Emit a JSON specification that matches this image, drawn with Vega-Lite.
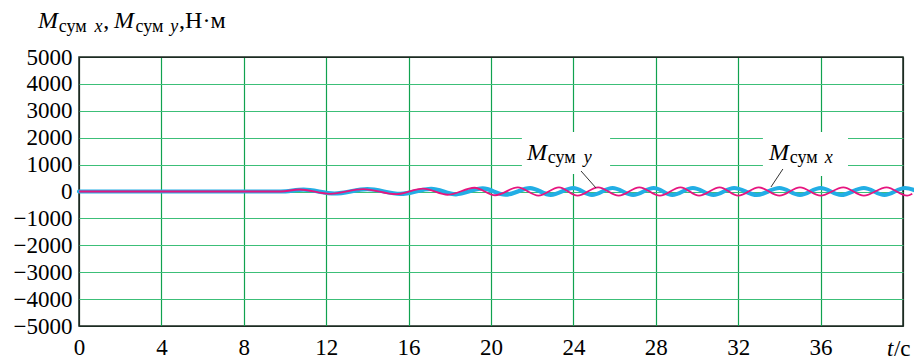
{
  "$schema": "https://vega.github.io/schema/vega-lite/v6.json",
  "width": 824,
  "height": 269,
  "autosize": "none",
  "padding": {"left": 79, "top": 57, "right": 11, "bottom": 34},
  "background": "white",
  "config": {
    "view": {"stroke": "#1c2b22", "strokeWidth": 1.5},
    "font": "Liberation Serif"
  },
  "datasets": {
    "one": [{}],
    "curves": [
      {"s": "Mx", "t": 0, "v": 0}, {"s": "Mx", "t": 9.8, "v": 0}, {"s": "Mx", "t": 10.9, "v": 70}, {"s": "Mx", "t": 12.4, "v": -75},
      {"s": "Mx", "t": 14.0, "v": 85}, {"s": "Mx", "t": 15.6, "v": -90}, {"s": "Mx", "t": 17.1, "v": 100}, {"s": "Mx", "t": 18.3, "v": -105},
      {"s": "Mx", "t": 19.6, "v": 115}, {"s": "Mx", "t": 20.7, "v": -120}, {"s": "Mx", "t": 21.9, "v": 125}, {"s": "Mx", "t": 22.9, "v": -125},
      {"s": "Mx", "t": 24.0, "v": 130}, {"s": "Mx", "t": 24.9, "v": -130}, {"s": "Mx", "t": 25.9, "v": 130}, {"s": "Mx", "t": 26.9, "v": -130},
      {"s": "Mx", "t": 27.9, "v": 130}, {"s": "Mx", "t": 28.8, "v": -130}, {"s": "Mx", "t": 29.8, "v": 130}, {"s": "Mx", "t": 30.8, "v": -130},
      {"s": "Mx", "t": 31.8, "v": 130}, {"s": "Mx", "t": 32.9, "v": -130}, {"s": "Mx", "t": 34.0, "v": 130}, {"s": "Mx", "t": 35.0, "v": -130},
      {"s": "Mx", "t": 36.0, "v": 130}, {"s": "Mx", "t": 37.0, "v": -130}, {"s": "Mx", "t": 38.1, "v": 130}, {"s": "Mx", "t": 39.1, "v": -130},
      {"s": "Mx", "t": 40.1, "v": 130}, {"s": "Mx", "t": 40.6, "v": 40},
      {"s": "My", "t": 0, "v": 0}, {"s": "My", "t": 9.8, "v": 0}, {"s": "My", "t": 10.7, "v": 75}, {"s": "My", "t": 12.2, "v": -85},
      {"s": "My", "t": 13.8, "v": 90}, {"s": "My", "t": 15.4, "v": -100}, {"s": "My", "t": 16.7, "v": 110}, {"s": "My", "t": 17.9, "v": -120},
      {"s": "My", "t": 19.2, "v": 140}, {"s": "My", "t": 20.2, "v": -140}, {"s": "My", "t": 21.3, "v": 150}, {"s": "My", "t": 22.3, "v": -150},
      {"s": "My", "t": 23.3, "v": 155}, {"s": "My", "t": 24.2, "v": -155}, {"s": "My", "t": 25.2, "v": 155}, {"s": "My", "t": 26.2, "v": -155},
      {"s": "My", "t": 27.2, "v": 155}, {"s": "My", "t": 28.2, "v": -155}, {"s": "My", "t": 29.2, "v": 155}, {"s": "My", "t": 30.1, "v": -155},
      {"s": "My", "t": 31.1, "v": 155}, {"s": "My", "t": 32.0, "v": -155}, {"s": "My", "t": 33.0, "v": 155}, {"s": "My", "t": 34.0, "v": -155},
      {"s": "My", "t": 35.0, "v": 155}, {"s": "My", "t": 36.0, "v": -155}, {"s": "My", "t": 37.1, "v": 155}, {"s": "My", "t": 38.1, "v": -155},
      {"s": "My", "t": 39.2, "v": 155}, {"s": "My", "t": 40.2, "v": -155}, {"s": "My", "t": 40.45, "v": -80}
    ]
  },
  "layer": [
    {
      "data": {"name": "curves"},
      "transform": [{"filter": "datum.s == 'Mx'"}],
      "mark": {"type": "line", "interpolate": "monotone", "color": "#22aee5", "strokeWidth": 4.2, "strokeCap": "round", "clip": false},
      "encoding": {
        "x": {
          "field": "t", "type": "quantitative",
          "scale": {"domain": [0, 40], "nice": false, "zero": false},
          "axis": {
            "values": [0, 4, 8, 12, 16, 20, 24, 28, 32, 36, 40],
            "tickCount": 11,
            "grid": true,
            "gridColor": {"condition": {"test": "datum.value == 0 || datum.value == 40", "value": "#1c2b22"}, "value": "#10a24f"},
            "gridWidth": 1.2,
            "ticks": false, "domain": false,
            "labelFont": "Liberation Serif", "labelFontSize": 23, "labelColor": "black",
            "labelPadding": 10, "labelFlush": false, "labelOverlap": false,
            "labelExpr": "datum.value == 40 ? '' : datum.label",
            "title": null
          }
        },
        "y": {
          "field": "v", "type": "quantitative",
          "scale": {"domain": [-5000, 5000], "nice": false},
          "axis": {
            "values": [-5000, -4000, -3000, -2000, -1000, 0, 1000, 2000, 3000, 4000, 5000],
            "tickCount": 11,
            "grid": true,
            "gridColor": {"condition": {"test": "abs(datum.value) == 5000", "value": "#1c2b22"}, "value": "#3cbf78"},
            "gridWidth": 1.2,
            "ticks": false, "domain": false,
            "labelFont": "Liberation Serif", "labelFontSize": 23, "labelColor": "black",
            "labelPadding": 7, "labelFlush": false, "labelBound": false, "labelOverlap": false, "format": "d",
            "title": null
          }
        }
      }
    },
    {
      "data": {"name": "curves"},
      "transform": [{"filter": "datum.s == 'My'"}],
      "mark": {"type": "line", "interpolate": "monotone", "color": "#e6157f", "strokeWidth": 1.8, "clip": false},
      "encoding": {
        "x": {"field": "t", "type": "quantitative"},
        "y": {"field": "v", "type": "quantitative"}
      }
    },
    {
      "data": {"name": "one"},
      "mark": {"type": "rect", "color": "white"},
      "encoding": {"x": {"datum": 21.5}, "x2": {"datum": 25.78}, "y": {"datum": 2212}, "y2": {"datum": 650}}
    },
    {
      "data": {"name": "one"},
      "mark": {"type": "rect", "color": "white"},
      "encoding": {"x": {"datum": 33.2}, "x2": {"datum": 37.33}, "y": {"datum": 2212}, "y2": {"datum": 580}}
    },
    {
      "data": {"name": "one"},
      "mark": {"type": "rule", "color": "#333333", "strokeWidth": 1},
      "encoding": {"x": {"datum": 24.37}, "x2": {"datum": 25.1}, "y": {"datum": 762}, "y2": {"datum": 130}}
    },
    {
      "data": {"name": "one"},
      "mark": {"type": "rule", "color": "#333333", "strokeWidth": 1},
      "encoding": {"x": {"datum": 34.17}, "x2": {"datum": 33.59}, "y": {"datum": 836}, "y2": {"datum": 167}}
    },
    {
      "data": {"name": "one"},
      "mark": {"type": "text", "text": "M", "font": "Liberation Serif", "fontStyle": "italic", "fontSize": 24, "align": "left", "baseline": "alphabetic", "color": "black"},
      "encoding": {"x": {"datum": 21.75}, "y": {"datum": 1171}}
    },
    {
      "data": {"name": "one"},
      "mark": {"type": "text", "text": "сум", "font": "Liberation Serif", "fontSize": 18, "align": "left", "baseline": "alphabetic", "dy": 3, "color": "black"},
      "encoding": {"x": {"datum": 22.75}, "y": {"datum": 1171}}
    },
    {
      "data": {"name": "one"},
      "mark": {"type": "text", "text": "y", "font": "Liberation Serif", "fontStyle": "italic", "fontSize": 18, "align": "left", "baseline": "alphabetic", "dy": 3, "color": "black"},
      "encoding": {"x": {"datum": 24.5}, "y": {"datum": 1171}}
    },
    {
      "data": {"name": "one"},
      "mark": {"type": "text", "text": "M", "font": "Liberation Serif", "fontStyle": "italic", "fontSize": 24, "align": "left", "baseline": "alphabetic", "color": "black"},
      "encoding": {"x": {"datum": 33.5}, "y": {"datum": 1171}}
    },
    {
      "data": {"name": "one"},
      "mark": {"type": "text", "text": "сум", "font": "Liberation Serif", "fontSize": 18, "align": "left", "baseline": "alphabetic", "dy": 3, "color": "black"},
      "encoding": {"x": {"datum": 34.5}, "y": {"datum": 1171}}
    },
    {
      "data": {"name": "one"},
      "mark": {"type": "text", "text": "x", "font": "Liberation Serif", "fontStyle": "italic", "fontSize": 18, "align": "left", "baseline": "alphabetic", "dy": 3, "color": "black"},
      "encoding": {"x": {"datum": 36.2}, "y": {"datum": 1171}}
    },
    {
      "data": {"name": "one"},
      "mark": {"type": "text", "text": "M", "font": "Liberation Serif", "fontStyle": "italic", "fontSize": 24, "align": "left", "baseline": "alphabetic", "color": "black"},
      "encoding": {"x": {"datum": -1.99}, "y": {"datum": 6077}}
    },
    {
      "data": {"name": "one"},
      "mark": {"type": "text", "text": "сум", "font": "Liberation Serif", "fontSize": 18, "align": "left", "baseline": "alphabetic", "dy": 4, "color": "black"},
      "encoding": {"x": {"datum": -0.98}, "y": {"datum": 6077}}
    },
    {
      "data": {"name": "one"},
      "mark": {"type": "text", "text": "x", "font": "Liberation Serif", "fontStyle": "italic", "fontSize": 18, "align": "left", "baseline": "alphabetic", "dy": 4, "color": "black"},
      "encoding": {"x": {"datum": 0.75}, "y": {"datum": 6077}}
    },
    {
      "data": {"name": "one"},
      "mark": {"type": "text", "text": ",", "font": "Liberation Serif", "fontSize": 24, "align": "left", "baseline": "alphabetic", "color": "black"},
      "encoding": {"x": {"datum": 1.18}, "y": {"datum": 6077}}
    },
    {
      "data": {"name": "one"},
      "mark": {"type": "text", "text": "M", "font": "Liberation Serif", "fontStyle": "italic", "fontSize": 24, "align": "left", "baseline": "alphabetic", "color": "black"},
      "encoding": {"x": {"datum": 1.7}, "y": {"datum": 6077}}
    },
    {
      "data": {"name": "one"},
      "mark": {"type": "text", "text": "сум", "font": "Liberation Serif", "fontSize": 18, "align": "left", "baseline": "alphabetic", "dy": 4, "color": "black"},
      "encoding": {"x": {"datum": 2.74}, "y": {"datum": 6077}}
    },
    {
      "data": {"name": "one"},
      "mark": {"type": "text", "text": "y", "font": "Liberation Serif", "fontStyle": "italic", "fontSize": 18, "align": "left", "baseline": "alphabetic", "dy": 4, "color": "black"},
      "encoding": {"x": {"datum": 4.43}, "y": {"datum": 6077}}
    },
    {
      "data": {"name": "one"},
      "mark": {"type": "text", "text": ",Н·м", "font": "Liberation Serif", "fontSize": 24, "align": "left", "baseline": "alphabetic", "color": "black"},
      "encoding": {"x": {"datum": 4.86}, "y": {"datum": 6077}}
    },
    {
      "data": {"name": "one"},
      "mark": {"type": "text", "text": "t", "font": "Liberation Serif", "fontStyle": "italic", "fontSize": 23, "align": "left", "baseline": "alphabetic", "color": "black"},
      "encoding": {"x": {"datum": 39.22}, "y": {"datum": -6110}}
    },
    {
      "data": {"name": "one"},
      "mark": {"type": "text", "text": "/с", "font": "Liberation Serif", "fontSize": 23, "align": "left", "baseline": "alphabetic", "color": "black"},
      "encoding": {"x": {"datum": 39.56}, "y": {"datum": -6110}}
    }
  ]
}
